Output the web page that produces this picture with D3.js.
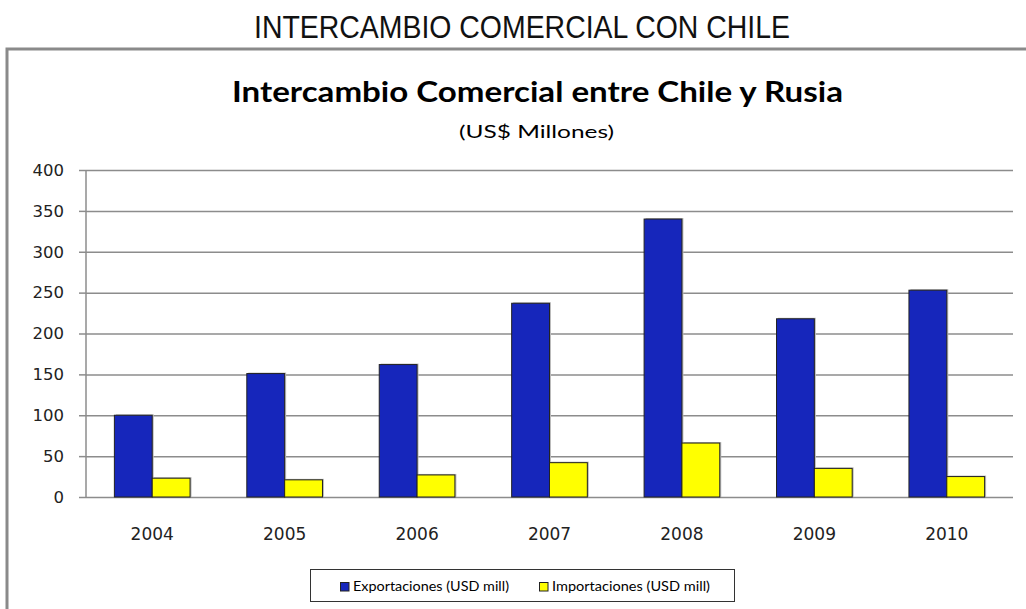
<!DOCTYPE html>
<html>
<head>
<meta charset="utf-8">
<script src="https://cdn.jsdelivr.net/npm/d3@7"></script>
<style>
html,body{margin:0;padding:0;background:#fff;overflow:hidden;}
</style>
</head>
<body>
<svg id="chart" width="1026" height="609"></svg>
<script>
const years = ["2004","2005","2006","2007","2008","2009","2010"];
const exportaciones = [100, 151, 162, 237, 340, 218, 253];
const importaciones = [23, 21, 27, 42, 66, 35, 25];
const seriesNames = ["Exportaciones (USD mill)", "Importaciones (USD mill)"];
const seriesColors = ["#1626BB", "#FFFF00"];
const yTicks = [0, 50, 100, 150, 200, 250, 300, 350, 400];

const svg = d3.select("#chart");

// outer frame
svg.append("path")
  .attr("d", "M7,615 V49 H1032")
  .attr("fill", "none").attr("stroke", "#8a8a8a").attr("stroke-width", 3);

// page title
svg.append("text")
  .attr("x", 254).attr("y", 38)
  .attr("textLength", 536).attr("lengthAdjust", "spacingAndGlyphs")
  .style("font-family", "'Liberation Sans Narrow','Arial Narrow','Liberation Sans',sans-serif")
  .style("font-size", "32px").attr("fill", "#111")
  .text("INTERCAMBIO COMERCIAL CON CHILE");

// chart title
svg.append("text")
  .attr("x", 232).attr("y", 102)
  .attr("textLength", 611).attr("lengthAdjust", "spacingAndGlyphs")
  .style("font-family", "Lato,'Open Sans',sans-serif").style("font-weight", "bold")
  .style("font-size", "29px").attr("fill", "#000")
  .text("Intercambio Comercial entre Chile y Rusia");

svg.append("text")
  .attr("x", 459).attr("y", 138)
  .attr("textLength", 155).attr("lengthAdjust", "spacingAndGlyphs")
  .style("font-family", "Lato,'Open Sans',sans-serif")
  .style("font-size", "18px").attr("fill", "#000")
  .text("(US$ Millones)");

// scales
const plotL = 86, plotR = 1013, plotT = 170, plotB = 497;
const y = d3.scaleLinear().domain([0, 400]).range([plotB, plotT]);
const x0 = d3.scaleBand().domain(years).range([plotL, plotR]).padding(0);
const groupW = x0.bandwidth() * 2 / 3.5;
const x1 = d3.scaleBand().domain([0, 1]).range([0, groupW]).padding(0);
const offset = (x0.bandwidth() - groupW) / 2;

// y axis ticks + labels
const yAxis = svg.append("g")
  .attr("transform", `translate(${plotL},0)`)
  .call(d3.axisLeft(y).tickValues(yTicks).tickSize(7).tickPadding(15)
        .tickFormat(d3.format("d")));
yAxis.select(".domain").remove();
yAxis.selectAll(".tick line").attr("stroke", "#8c8c8c").attr("stroke-width", 1.5);
yAxis.selectAll(".tick text")
  .style("font-family", "'DejaVu Sans',Verdana,sans-serif").style("font-size", "16.5px")
  .attr("fill", "#222");

// gridlines
const grid = svg.append("g")
  .attr("transform", `translate(${plotL},0)`)
  .call(d3.axisRight(y).tickValues(yTicks).tickSize(plotR - plotL).tickFormat(""));
grid.select(".domain").remove();
grid.selectAll(".tick line").attr("stroke", "#8c8c8c").attr("stroke-width", 1.5);

// vertical axis line
svg.append("line")
  .attr("x1", plotL).attr("x2", plotL).attr("y1", plotT).attr("y2", plotB)
  .attr("stroke", "#8c8c8c").attr("stroke-width", 1.5);

// x axis labels
const xAxis = svg.append("g")
  .attr("transform", `translate(0,${plotB})`)
  .call(d3.axisBottom(x0).tickSize(0).tickPadding(31));
xAxis.select(".domain").remove();
xAxis.selectAll(".tick text")
  .style("font-family", "'DejaVu Sans',Verdana,sans-serif").style("font-size", "17px")
  .attr("fill", "#222");

// bars
const data = years.map((yr, i) => ({year: yr, vals: [exportaciones[i], importaciones[i]]}));
const groups = svg.append("g").selectAll("g").data(data).join("g")
  .attr("transform", d => `translate(${x0(d.year) + offset},0)`);

groups.selectAll("rect.sh").data(d => d.vals.map((v, k) => ({v, k}))).join("rect")
  .attr("class", "sh")
  .attr("x", d => x1(d.k) + 1.5).attr("y", d => y(d.v) - 1)
  .attr("width", x1.bandwidth()).attr("height", d => plotB - y(d.v) + 1)
  .attr("fill", "#bbb");

groups.selectAll("rect.bar").data(d => d.vals.map((v, k) => ({v, k}))).join("rect")
  .attr("class", "bar")
  .attr("x", d => x1(d.k)).attr("y", d => y(d.v))
  .attr("width", x1.bandwidth()).attr("height", d => plotB - y(d.v))
  .attr("fill", d => seriesColors[d.k])
  .attr("stroke", "#222").attr("stroke-width", 1);

// legend
const lg = svg.append("g");
lg.append("rect").attr("x", 310.5).attr("y", 569.5).attr("width", 424).attr("height", 32)
  .attr("fill", "#fff").attr("stroke", "#333").attr("stroke-width", 1);
const legX = [340.5, 539.5];
const legW = [156, 158];
seriesNames.forEach((n, i) => {
  lg.append("rect").attr("x", legX[i]).attr("y", 582.5).attr("width", 8.5).attr("height", 8.5)
    .attr("fill", seriesColors[i]).attr("stroke", "#222").attr("stroke-width", 1);
  lg.append("text").attr("x", legX[i] + 12.5).attr("y", 591)
    .attr("textLength", legW[i]).attr("lengthAdjust", "spacingAndGlyphs")
    .style("font-family", "Lato,'Open Sans',sans-serif").style("font-size", "13px")
    .attr("fill", "#000").text(n);
});
</script>
</body>
</html>
